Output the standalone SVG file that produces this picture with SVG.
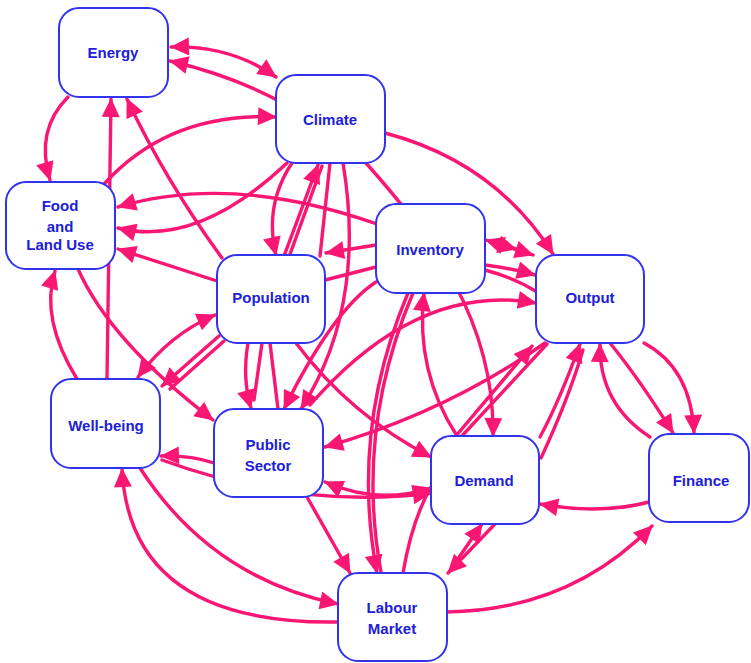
<svg xmlns="http://www.w3.org/2000/svg" width="751" height="663" viewBox="0 0 751 663">
<style>
.c{fill:none;stroke:#fa1673;stroke-width:3.4;stroke-linecap:round}
.n rect{fill:#fff;stroke:#3333ee;stroke-width:2}
.n text{font-family:"Liberation Sans",Arial,sans-serif;font-size:15px;font-weight:bold;fill:#2020d8;text-anchor:middle}
</style>
<defs>
<marker id="a" markerUnits="userSpaceOnUse" markerWidth="20" markerHeight="18" viewBox="0 0 19 18" refX="18" refY="9" orient="auto-start-reverse">
<path d="M0,0 L19,9 L0,18 Z" fill="#fa1673"/>
</marker>
</defs>
<rect width="751" height="663" fill="#fff"/>
<g id="connectors">
<path class="c" d="M171,47 Q230,45 276,77" marker-start="url(#a)" marker-end="url(#a)"/>
<path class="c" d="M277,100 Q230,75 170,61" marker-end="url(#a)"/>
<path class="c" d="M68,97 Q35,130 50,180" marker-end="url(#a)"/>
<path class="c" d="M107,379 L111,99" marker-end="url(#a)"/>
<path class="c" d="M222,258 Q165,180 127,99" marker-end="url(#a)"/>
<path class="c" d="M105,183 Q170,112 276,117" marker-end="url(#a)"/>
<path class="c" d="M287,163 Q197,248 118,228" marker-end="url(#a)"/>
<path class="c" d="M377,224 Q232,173 118,207" marker-end="url(#a)"/>
<path class="c" d="M217,281 L118,249" marker-end="url(#a)"/>
<path class="c" d="M78,269 Q110,341 213,420" marker-end="url(#a)"/>
<path class="c" d="M77,379 Q40,319 55,271" marker-end="url(#a)"/>
<path class="c" d="M138,377 Q170,334 215,315" marker-start="url(#a)" marker-end="url(#a)"/>
<path class="c" d="M219,336 L162,386" marker-end="url(#a)"/>
<path class="c" d="M224,341 L170,389"/>
<path class="c" d="M292,163 Q264,205 276,255" marker-end="url(#a)"/>
<path class="c" d="M284,256 L318,165" marker-end="url(#a)"/>
<path class="c" d="M289,257 L322,166"/>
<path class="c" d="M330,163 L320,256"/>
<path class="c" d="M270,343 L278,409"/>
<path class="c" d="M248,343 Q242,378 251,408" marker-end="url(#a)"/>
<path class="c" d="M262,343 L254,400"/>
<path class="c" d="M343,163 C356,240 352,330 301,409" marker-end="url(#a)"/>
<path class="c" d="M376,282 Q333,310 284,409" marker-end="url(#a)"/>
<path class="c" d="M376,245 L326,253" marker-end="url(#a)"/>
<path class="c" d="M325,280 L376,267"/>
<path class="c" d="M385,133 Q495,162 553,254" marker-end="url(#a)"/>
<path class="c" d="M366,163 C430,235 495,320 493,436" marker-end="url(#a)"/>
<path class="c" d="M486,240 L533,255" marker-start="url(#a)" marker-end="url(#a)"/>
<path class="c" d="M490,242 L516,249" marker-end="url(#a)"/>
<path class="c" d="M485,265 Q510,268 535,275" marker-end="url(#a)"/>
<path class="c" d="M485,270 Q515,278 537,292"/>
<path class="c" d="M310,405 Q417,282 536,303" marker-end="url(#a)"/>
<path class="c" d="M545,343 Q445,413 325,447" marker-end="url(#a)"/>
<path class="c" d="M457,436 Q415,371 424,293" marker-end="url(#a)"/>
<path class="c" d="M455,437 L532,346" marker-end="url(#a)"/>
<path class="c" d="M461,437 L547,344"/>
<path class="c" d="M296,343 Q350,415 431,457" marker-end="url(#a)"/>
<path class="c" d="M307,497 L350,573" marker-end="url(#a)"/>
<path class="c" d="M408,293 Q350,430 377,573" marker-end="url(#a)"/>
<path class="c" d="M413,293 Q355,430 381,572"/>
<path class="c" d="M403,573 Q412,520 431,487"/>
<path class="c" d="M325,482 Q378,505 431,488" marker-start="url(#a)" marker-end="url(#a)"/>
<path class="c" d="M162,460 Q300,510 431,493" marker-end="url(#a)"/>
<path class="c" d="M214,463 Q190,455 161,456" marker-end="url(#a)"/>
<path class="c" d="M495,524 L448,573" marker-end="url(#a)"/>
<path class="c" d="M453,566 L482,524" marker-end="url(#a)"/>
<path class="c" d="M447,612 Q570,610 652,526" marker-end="url(#a)"/>
<path class="c" d="M649,502 Q600,515 540,504" marker-end="url(#a)"/>
<path class="c" d="M540,437 Q560,400 580,344" marker-end="url(#a)"/>
<path class="c" d="M541,458 Q568,400 583,350"/>
<path class="c" d="M650,437 Q599,404 600,344" marker-end="url(#a)"/>
<path class="c" d="M610,343 Q640,380 673,433" marker-end="url(#a)"/>
<path class="c" d="M644,343 Q691,368 694,433" marker-end="url(#a)"/>
<path class="c" d="M140,468 Q211,578 338,604" marker-end="url(#a)"/>
<path class="c" d="M338,622 Q130,625 122,469" marker-end="url(#a)"/>
</g>
<g id="energy" class="n"><rect x="59" y="8" width="109" height="89" rx="20"/><text x="113" y="58">Energy</text></g>
<g id="climate" class="n"><rect x="276" y="75" width="109" height="88" rx="20"/><text x="330" y="125">Climate</text></g>
<g id="food" class="n"><rect x="6" y="182" width="109" height="87" rx="20"/><text x="60" y="211">Food</text><text x="60" y="232">and</text><text x="60" y="250">Land Use</text></g>
<g id="population" class="n"><rect x="217" y="255" width="108" height="88" rx="20"/><text x="271" y="303">Population</text></g>
<g id="inventory" class="n"><rect x="376" y="204" width="109" height="89" rx="20"/><text x="430" y="255">Inventory</text></g>
<g id="output" class="n"><rect x="536" y="255" width="108" height="88" rx="20"/><text x="590" y="303">Output</text></g>
<g id="wellbeing" class="n"><rect x="51" y="379" width="109" height="89" rx="20"/><text x="106" y="431">Well-being</text></g>
<g id="publicsector" class="n"><rect x="214" y="409" width="109" height="88" rx="20"/><text x="268" y="450">Public</text><text x="268" y="471">Sector</text></g>
<g id="demand" class="n"><rect x="431" y="436" width="108" height="88" rx="20"/><text x="484" y="486">Demand</text></g>
<g id="finance" class="n"><rect x="649" y="434" width="100" height="88" rx="20"/><text x="701" y="486">Finance</text></g>
<g id="labour" class="n"><rect x="338" y="573" width="109" height="88" rx="20"/><text x="392" y="613">Labour</text><text x="392" y="634">Market</text></g>
</svg>
